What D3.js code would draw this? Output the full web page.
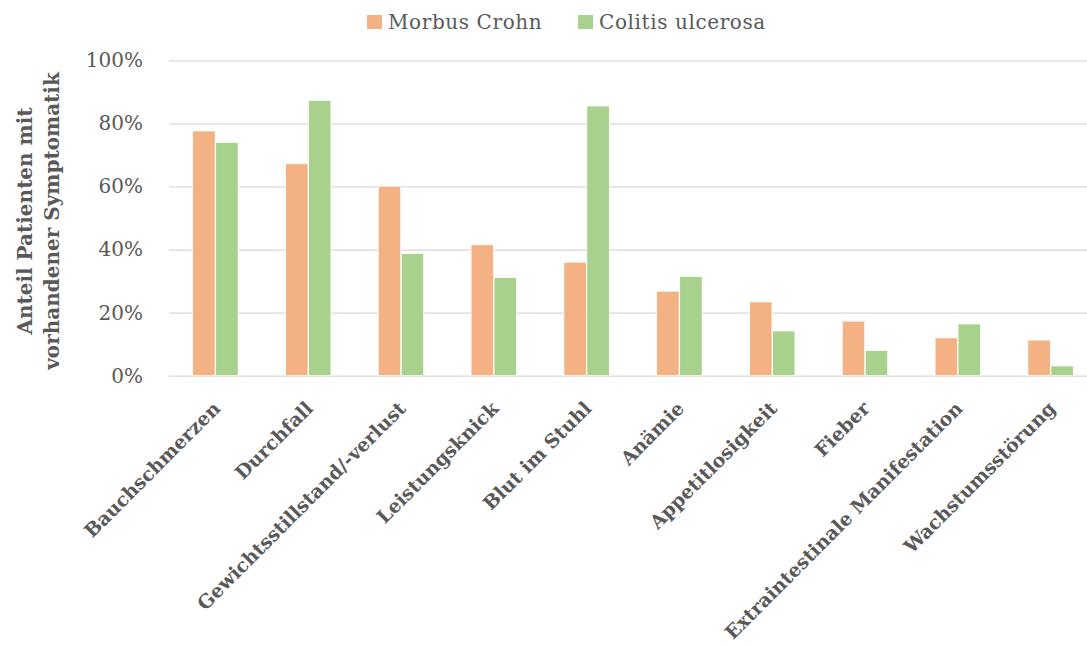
<!DOCTYPE html>
<html>
<head>
<meta charset="utf-8">
<script src="https://cdn.jsdelivr.net/npm/d3@7"></script>
<style>
  body { margin: 0; background: #fff; }
  svg text { font-family: "DejaVu Serif", serif; fill: #595959; }
  .grid line { stroke: #d9d9d9; stroke-width: 1.3; }
</style>
</head>
<body>
<div id="chart"></div>
<script>
// data
const categories = ["Bauchschmerzen", "Durchfall", "Gewichtsstillstand/-verlust", "Leistungsknick",
  "Blut im Stuhl", "Anämie", "Appetitlosigkeit", "Fieber", "Extraintestinale Manifestation", "Wachstumsstörung"];
const seriesNames = ["Morbus Crohn", "Colitis ulcerosa"];
const crohn = [0.776, 0.672, 0.601, 0.415, 0.360, 0.268, 0.234, 0.173, 0.120, 0.113];
const colitis = [0.740, 0.873, 0.387, 0.311, 0.855, 0.315, 0.142, 0.080, 0.164, 0.031];
const yTicks = [0, 0.2, 0.4, 0.6, 0.8, 1.0];
const colors = ["#f4b183", "#a9d18e"];

const W = 1087, H = 646;
const m = { left: 169, right: -10, top: 60.3, bottom: 270.3 };
const innerW = W - m.left - m.right, innerH = H - m.top - m.bottom;

const svg = d3.select("#chart").append("svg").attr("width", W).attr("height", H);
const g = svg.append("g").attr("transform", `translate(${m.left},${m.top})`);

const x0 = d3.scaleBand().domain(categories).range([0, innerW]).paddingInner(0.51).paddingOuter(0.255);
const x1 = d3.scaleBand().domain(seriesNames).range([0, x0.bandwidth()]).paddingInner(0.02);
const y = d3.scaleLinear().domain([0, 1]).range([innerH, 0]);

// gridlines + tick labels
const yAxis = g.append("g").attr("class", "grid")
  .call(d3.axisLeft(y).tickValues(yTicks).tickFormat(d3.format(".0%")).tickSize(-innerW).tickPadding(26));
yAxis.select(".domain").remove();
yAxis.selectAll("text").style("font-size", "20px").style("fill", "#595959").style("font-family", "DejaVu Serif");

// bars
const rows = categories.map((c, i) => ({ cat: c, vals: [crohn[i], colitis[i]] }));
g.selectAll(".grp").data(rows).join("g")
  .attr("class", "grp")
  .attr("transform", d => `translate(${x0(d.cat)},0)`)
  .selectAll("rect")
  .data(d => d.vals.map((v, k) => ({ s: seriesNames[k], v, k })))
  .join("rect")
  .attr("x", d => x1(d.s))
  .attr("width", x1.bandwidth())
  .attr("y", d => y(d.v))
  .attr("height", d => y(0) - y(d.v))
  .attr("fill", d => colors[d.k])
  .attr("stroke", "#fff")
  .attr("stroke-width", 0.8);

// x labels, rotated
g.append("g").selectAll("text").data(categories).join("text")
  .attr("transform", d => `translate(${x0(d) + x0.bandwidth() / 2 + 6},${innerH + 34}) rotate(-45)`)
  .attr("text-anchor", "end")
  .style("font-size", "19px")
  .style("font-weight", "bold")
  .text(d => d);

// y axis title (two lines)
const yt = svg.append("text")
  .attr("transform", `translate(32,221) rotate(-90)`)
  .attr("text-anchor", "middle")
  .style("font-size", "20px")
  .style("font-weight", "bold");
yt.append("tspan").attr("x", 0).attr("dy", 0).text("Anteil Patienten mit");
yt.append("tspan").attr("x", 0).attr("dy", 27).text("vorhandener Symptomatik");

// legend
const legX = [367, 578];
const leg = svg.append("g").selectAll("g").data(seriesNames).join("g")
  .attr("transform", (d, i) => `translate(${legX[i]},15)`);
leg.append("rect").attr("width", 15).attr("height", 14).attr("fill", (d, i) => colors[i]);
leg.append("text").attr("x", 21).attr("y", 14)
  .style("font-size", "20px")
  .style("letter-spacing", "0.6px")
  .text(d => d);
</script>
</body>
</html>
